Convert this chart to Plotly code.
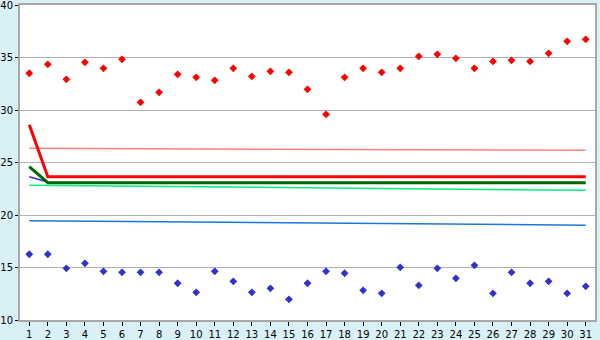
import plotly.graph_objects as go

days = list(range(1, 32))

upper_points = [33.5, 34.35, 32.92, 34.54, 33.97, 34.83, 30.73, 31.68, 33.4, 33.11,
                32.83, 33.97, 33.2, 33.68, 33.59, 31.97, 29.59, 33.11, 33.97, 33.59,
                33.97, 35.11, 35.3, 34.92, 33.97, 34.63, 34.73, 34.63, 35.4, 36.54, 36.73]
lower_points = [16.26, 16.26, 14.92, 15.4, 14.64, 14.54, 14.54, 14.54, 13.5, 12.64,
                14.64, 13.68, 12.64, 13.02, 11.97, 13.5, 14.64, 14.45, 12.83, 12.54,
                15.02, 13.3, 14.92, 13.97, 15.21, 12.54, 14.54, 13.5, 13.68, 12.54, 13.21]

red_line_x = [1, 2, 31]
red_line_y = [28.6, 23.65, 23.65]
green_line_x = [1, 2, 31]
green_line_y = [24.6, 23.08, 23.08]
purple_line_x = [1, 2]
purple_line_y = [23.65, 23.15]
pink_line_x = [1, 31]
pink_line_y = [26.35, 26.16]
spring_line_x = [1, 31]
spring_line_y = [22.83, 22.35]
blue_line_x = [1, 31]
blue_line_y = [19.45, 19.03]

y_ticks = [10, 15, 20, 25, 30, 35, 40]

fig = go.Figure()
fig.add_trace(go.Scatter(x=pink_line_x, y=pink_line_y, mode="lines",
                         line=dict(color="#ff8080", width=1.5)))
fig.add_trace(go.Scatter(x=spring_line_x, y=spring_line_y, mode="lines",
                         line=dict(color="#00f080", width=1.5)))
fig.add_trace(go.Scatter(x=blue_line_x, y=blue_line_y, mode="lines",
                         line=dict(color="#1a78dc", width=1.5)))
fig.add_trace(go.Scatter(x=purple_line_x, y=purple_line_y, mode="lines",
                         line=dict(color="#3333cc", width=1.5)))
fig.add_trace(go.Scatter(x=red_line_x, y=red_line_y, mode="lines",
                         line=dict(color="#ff0000", width=3)))
fig.add_trace(go.Scatter(x=green_line_x, y=green_line_y, mode="lines",
                         line=dict(color="#006600", width=3)))
fig.add_trace(go.Scatter(x=days, y=upper_points, mode="markers",
                         marker=dict(symbol="diamond", size=6, color="#ff0000")))
fig.add_trace(go.Scatter(x=days, y=lower_points, mode="markers",
                         marker=dict(symbol="diamond", size=6, color="#3333cc")))

fig.update_layout(
    width=600, height=340,
    margin=dict(l=20, r=5, t=5, b=20),
    paper_bgcolor="#d9f0f7",
    plot_bgcolor="#ffffff",
    showlegend=False,
    font=dict(family="DejaVu Sans", size=10, color="#000000"),
)
fig.update_xaxes(
    range=[0.5, 31.5], tickmode="array", tickvals=days,
    ticktext=[str(d) for d in days], automargin=False,
    showgrid=False, zeroline=False, ticklabeloverflow="allow",
    showline=True, linecolor="#a8a8a8", linewidth=2, mirror=True,
    ticks="outside", ticklen=4, tickcolor="#000000",
)
fig.update_yaxes(
    range=[10, 40], tickmode="array", tickvals=y_ticks, automargin=False,
    showgrid=True, gridcolor="#b0b0b0", gridwidth=1, zeroline=False,
    ticklabeloverflow="allow",
    showline=True, linecolor="#a8a8a8", linewidth=2, mirror=True,
    ticks="outside", ticklen=3, tickcolor="#000000",
)

fig.write_html("out.html")
